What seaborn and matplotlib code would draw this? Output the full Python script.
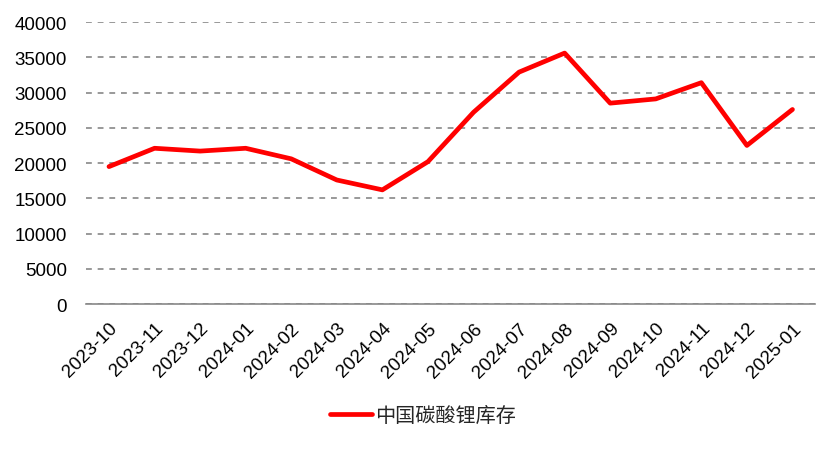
import matplotlib
matplotlib.use("Agg")
import matplotlib.pyplot as plt
import seaborn as sns
import pandas as pd
import numpy as np
from matplotlib.ticker import FixedLocator

months = ["2023-10", "2023-11", "2023-12", "2024-01", "2024-02", "2024-03", "2024-04",
          "2024-05", "2024-06", "2024-07", "2024-08", "2024-09", "2024-10", "2024-11",
          "2024-12", "2025-01"]
inventory = [19500, 22100, 21700, 22100, 20600, 17600, 16200, 20200, 27200, 32900,
             35600, 28500, 29100, 31400, 22500, 27600]
series_name = "中国碳酸锂库存"
y_ticks = [0, 5000, 10000, 15000, 20000, 25000, 30000, 35000, 40000]

sns.set_theme(style="white")
plt.rcParams['font.family'] = ['Noto Sans CJK SC', 'DejaVu Sans']

df = pd.DataFrame({"month": months, "value": inventory, "series": series_name})

fig = plt.figure(figsize=(8.37, 4.52), dpi=100)
ax = fig.add_axes([0.103, 0.325, 0.871, 0.624])

sns.lineplot(data=df, x="month", y="value", hue="series", palette=["#FF0000"],
             linewidth=3.4, ax=ax, sort=False)

ax.set_xlim(-0.5, len(months) - 0.5)
ax.set_ylim(0, 40000)
ax.set_yticks(y_ticks)
ax.set_yticklabels([str(v) for v in y_ticks], fontsize=13.5, color="#000000",
                   family=['Liberation Sans', 'DejaVu Sans'])
ax.set_xticks(range(len(months)))
ax.set_xticklabels(months, rotation=45, ha="right", rotation_mode="anchor", fontsize=13.5,
                   color="#000000", family=['Liberation Sans', 'DejaVu Sans'])
ax.xaxis.set_minor_locator(FixedLocator(np.arange(-0.5, len(months), 1.0)))
ax.tick_params(axis="x", which="major", length=0, pad=11)
ax.tick_params(axis="x", which="minor", length=5, width=1.2, color="#888888", direction="out")
ax.tick_params(axis="y", length=0, pad=14)
ax.yaxis.grid(True, linestyle=(0, (3.5, 3.5)), color="#888888", linewidth=1.2)
ax.xaxis.grid(False)
ax.set_xlabel("")
ax.set_ylabel("")
for s in ["top", "right", "left"]:
    ax.spines[s].set_visible(False)
ax.spines["bottom"].set_color("#888888")
ax.spines["bottom"].set_linewidth(1.2)

ax.legend_.remove()
handles, labels = ax.get_legend_handles_labels()
fig.legend(handles, labels, loc="center", bbox_to_anchor=(0.505, 0.078), frameon=False,
           fontsize=14.5, handlelength=2.1, handletextpad=0.15)

fig.savefig("out.png", dpi=100)
